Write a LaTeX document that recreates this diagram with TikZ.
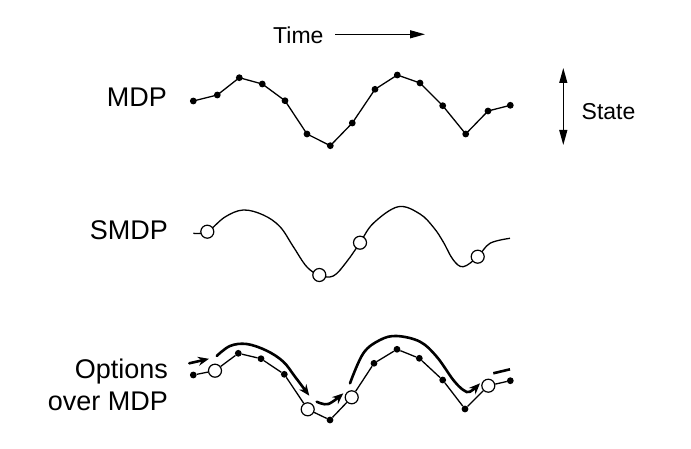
\documentclass[tikz,border=0pt]{standalone}
\usepackage{fontspec}
\setmainfont{Liberation Sans}
\usetikzlibrary{arrows.meta}
\begin{document}
\begin{tikzpicture}[x=1pt,y=-1pt,
  dot/.style={circle,fill=black,inner sep=0pt,minimum size=6.8pt},
  odot/.style={circle,draw=black,fill=white,line width=1.2pt,inner sep=0pt,minimum size=13pt},
  traj/.style={line width=1.3pt},
  smooth curve/.style={line width=1.3pt},
  opt/.style={line width=2.6pt,line cap=round,-{Stealth[length=11pt,width=9pt]}},
  optline/.style={line width=2.6pt},
  biglab/.style={font=\fontsize{27}{32}\selectfont},
  smalllab/.style={font=\fontsize{23}{28}\selectfont},
  axisarrow/.style={line width=1.2pt,-{Triangle[length=15pt,width=8pt]}},
  axisarrow2/.style={line width=1.2pt,{Triangle[length=15pt,width=8pt]}-{Triangle[length=15pt,width=8pt]}}]
\useasboundingbox (0,0) rectangle (691,449);

% labels
\node[biglab,anchor=base east,inner sep=0pt] (lmdp) at (167,107) {MDP};
\node[biglab,anchor=base east,inner sep=0pt] (lsmdp) at (168,240) {SMDP};
\node[biglab,anchor=base east,inner sep=0pt] (lopt) at (168,378) {Options};
\node[biglab,anchor=base east,inner sep=0pt] (lover) at (168,410) {over MDP};
\node[smalllab,anchor=base west,inner sep=0pt] (ltime) at (273,43.3) {Time};
\node[smalllab,anchor=base west,inner sep=0pt] (lstate) at (581.5,120) {State};

% axis arrows
\coordinate (tA) at (335,34.3);
\coordinate (tB) at (425,34.3);
\draw[axisarrow] (tA) -- (tB);
\coordinate (sA) at (563.3,68);
\coordinate (sB) at (563.3,145);
\draw[axisarrow2] (sA) -- (sB);

% MDP row
\foreach \n/\x/\y in {1/193.3/101,2/217.3/95,3/239.3/77.7,4/262.3/84,5/285/100.7,
  6/307/134,7/330.3/145.7,8/352.3/123,9/375/89.3,10/397.3/75,11/420/83,
  12/442.7/105.7,13/465.7/134,14/488/111,15/510.3/105.3}
  \node[dot] (m\n) at (\x,\y) {};
\foreach \a/\b in {1/2,2/3,3/4,4/5,5/6,6/7,7/8,8/9,9/10,10/11,11/12,12/13,13/14,14/15}
  \draw[traj] (m\a.center) -- (m\b.center);

% SMDP row
\draw[smooth curve] plot[smooth,tension=0.6] coordinates {
  (193.3,233.3) (207.3,231.7) (225,217) (243.3,210) (263.3,215) (280,226.7)
  (293.3,246.7) (306.7,266.7) (319.3,275) (333.3,276) (346.7,261.7)
  (360,242.7) (373.3,223.3) (398.3,206.7) (420,214) (434,228) (443.3,242)
  (453.3,260) (463.3,266.7) (477.7,256.7) (490,243.3) (510,238.3)};
\node[odot] (s1) at (207.3,231.7) {};
\node[odot] (s2) at (319.3,275) {};
\node[odot] (s3) at (360,242.7) {};
\node[odot] (s4) at (477.7,256.7) {};

% Options over MDP row
\foreach \n/\x/\y in {1/193.3/375,3/238.3/353.3,4/261/358.7,5/284.3/374.3,
  7/330/420,9/374/363.3,10/397/349.3,11/419.3/358.3,12/442.7/380,13/465/409,15/510.3/380.7}
  \node[dot] (o\n) at (\x,\y) {};
\foreach \n/\x/\y in {2/215/370.7,6/307.7/409.3,8/351.7/397.3,14/488.3/385.7}
  \node[odot] (o\n) at (\x,\y) {};
\foreach \a/\b in {1/2,2/3,3/4,4/5,5/6,6/7,7/8,8/9,9/10,10/11,11/12,12/13,13/14,14/15}
  \draw[traj] (o\a) -- (o\b);

% option trajectories
\coordinate (a1s) at (189.3,363.3);
\coordinate (a1e) at (209,358.8);
\draw[opt] (a1s) -- (a1e);
\draw[opt] plot[smooth,tension=0.6] coordinates {
  (216.7,356) (230,346) (246.7,344) (266.7,350.7) (283.3,361.7) (295,376.7) (309.3,395.7)};
\draw[opt] plot[smooth,tension=0.6] coordinates {
  (316.7,401.7) (328.3,404) (343.3,393.3)};
\draw[opt] plot[smooth,tension=0.6] coordinates {
  (350,383.3) (363.3,353.3) (380,340) (396.7,336) (420,341.7) (436.7,356.7)
  (453.3,380) (463.3,390) (470,391.7) (480,383.3)};
\coordinate (a5s) at (493.3,373.3);
\coordinate (a5e) at (510,369.3);
\draw[optline] (a5s) -- (a5e);
\end{tikzpicture}
\end{document}
